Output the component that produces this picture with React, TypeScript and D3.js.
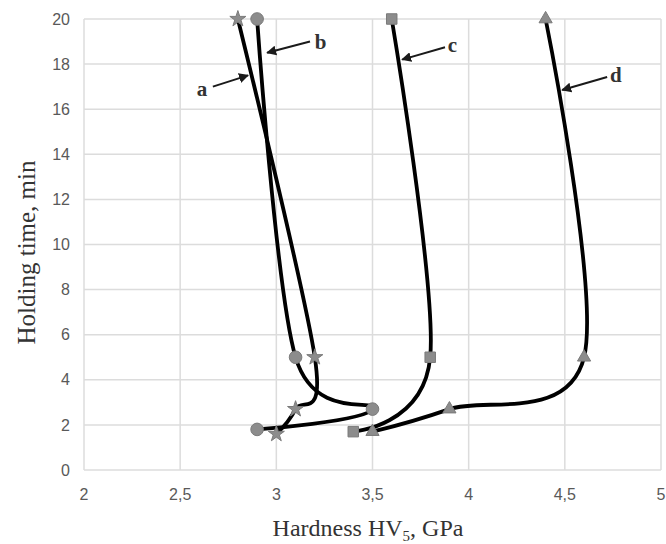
import * as d3 from "d3";
import React from "react";

// holding time (min) vs hardness HV5 (GPa)
const xTicks = [2, 2.5, 3, 3.5, 4, 4.5, 5];
const yTicks = [0, 2, 4, 6, 8, 10, 12, 14, 16, 18, 20];

const seriesA = [
  { x: 2.8, y: 20 },
  { x: 3.2, y: 5 },
  { x: 3.1, y: 2.7 },
  { x: 3.0, y: 1.6 },
];
const seriesB = [
  { x: 2.9, y: 20 },
  { x: 3.1, y: 5 },
  { x: 3.5, y: 2.7 },
  { x: 2.9, y: 1.8 },
];
const seriesC = [
  { x: 3.6, y: 20 },
  { x: 3.8, y: 5 },
  { x: 3.4, y: 1.7 },
];
const seriesD = [
  { x: 4.4, y: 20 },
  { x: 4.6, y: 5 },
  { x: 3.9, y: 2.7 },
  { x: 3.5, y: 1.7 },
];

// arrow callouts, in data units
const callouts = [
  { label: "a", lx: 2.614, ly: 16.9, tx: 2.67, ty: 17.0, hx: 2.853, hy: 17.5 },
  { label: "b", lx: 3.23, ly: 18.95, tx: 3.175, ty: 19.0, hx: 2.952, hy: 18.5 },
  { label: "c", lx: 3.915, ly: 18.85, tx: 3.877, ty: 18.75, hx: 3.654, hy: 18.2 },
  { label: "d", lx: 4.765, ly: 17.5, tx: 4.72, ty: 17.43, hx: 4.486, hy: 16.85 },
];

const width = 666;
const height = 544;
const margin = { left: 84, right: 5, top: 19, bottom: 74 };

const series = [
  { data: seriesA, symbol: d3.symbolStar, size: 80 },
  { data: seriesB, symbol: d3.symbolCircle, size: 125 },
  { data: seriesC, symbol: d3.symbolSquare, size: 110 },
  { data: seriesD, symbol: d3.symbolTriangle, size: 75 },
];

export default function App() {
  const x = d3
    .scaleLinear()
    .domain([2, 5])
    .range([margin.left, width - margin.right]);
  const y = d3
    .scaleLinear()
    .domain([0, 20])
    .range([height - margin.bottom, margin.top]);

  const line = d3
    .line<{ x: number; y: number }>()
    .x((d) => x(d.x))
    .y((d) => y(d.y))
    .curve(d3.curveCardinal.tension(0));

  const tickColor = "#595959";

  return (
    <svg
      width={width}
      height={height}
      style={{ position: "absolute", left: 0, top: 0, background: "#fff" }}
    >
      <defs>
        <marker
          id="arrow"
          viewBox="0 0 10 10"
          refX="9"
          refY="5"
          markerWidth="5"
          markerHeight="5"
          orient="auto"
        >
          <path d="M0,0 L10,5 L0,10 z" fill="#1a1a1a" />
        </marker>
      </defs>

      {/* grid */}
      <g stroke="#dcdcdc" strokeWidth={1.5}>
        {xTicks.map((t) => (
          <line key={"gx" + t} x1={x(t)} x2={x(t)} y1={y(0)} y2={y(20)} />
        ))}
        {yTicks.map((t) => (
          <line key={"gy" + t} x1={x(2)} x2={x(5)} y1={y(t)} y2={y(t)} />
        ))}
      </g>

      {/* tick labels */}
      <g fontFamily="Liberation Sans, Arial, sans-serif" fontSize={16} fill={tickColor}>
        {yTicks.map((t) => (
          <text key={"ty" + t} x={x(2) - 14} y={y(t)} dy="0.35em" textAnchor="end">
            {t}
          </text>
        ))}
        {xTicks.map((t) => (
          <text key={"tx" + t} x={x(t)} y={y(0) + 24} dy="0.35em" textAnchor="middle">
            {String(t).replace(".", ",")}
          </text>
        ))}
      </g>

      {/* axis titles */}
      <text
        transform={`translate(26, ${(y(0) + y(20)) / 2 + 8}) rotate(-90)`}
        textAnchor="middle"
        fontFamily="Liberation Serif, Times New Roman, serif"
        fontSize={25}
        fill="#333"
        dy="0.35em"
      >
        Holding time, min
      </text>
      <text
        x={368}
        y={536}
        textAnchor="middle"
        fontFamily="Liberation Serif, Times New Roman, serif"
        fontSize={24}
        fill="#333"
      >
        Hardness HV
        <tspan fontSize={15} dy={5}>5</tspan>
        <tspan dy={-5}>, GPa</tspan>
      </text>

      {/* curves */}
      {series.map((s, i) => (
        <path
          key={"l" + i}
          d={line(s.data) || ""}
          fill="none"
          stroke="#000"
          strokeWidth={3.8}
          strokeLinejoin="round"
        />
      ))}

      {/* markers */}
      {series.map((s, i) =>
        s.data.map((d, j) => (
          <path
            key={"m" + i + "-" + j}
            transform={`translate(${x(d.x)}, ${y(d.y)})`}
            d={d3.symbol().type(s.symbol).size(s.size)() || ""}
            fill="#8c8c8c"
            stroke="#7a7a7a"
            strokeWidth={1}
          />
        ))
      )}

      {/* callouts */}
      {callouts.map((c) => (
        <g key={c.label}>
          <line
            x1={x(c.tx)}
            y1={y(c.ty)}
            x2={x(c.hx)}
            y2={y(c.hy)}
            stroke="#1a1a1a"
            strokeWidth={2}
            markerEnd="url(#arrow)"
          />
          <text
            x={x(c.lx)}
            y={y(c.ly)}
            dy="0.32em"
            textAnchor="middle"
            fontFamily="Liberation Serif, Times New Roman, serif"
            fontWeight="bold"
            fontSize={21}
            fill="#333"
          >
            {c.label}
          </text>
        </g>
      ))}
    </svg>
  );
}
